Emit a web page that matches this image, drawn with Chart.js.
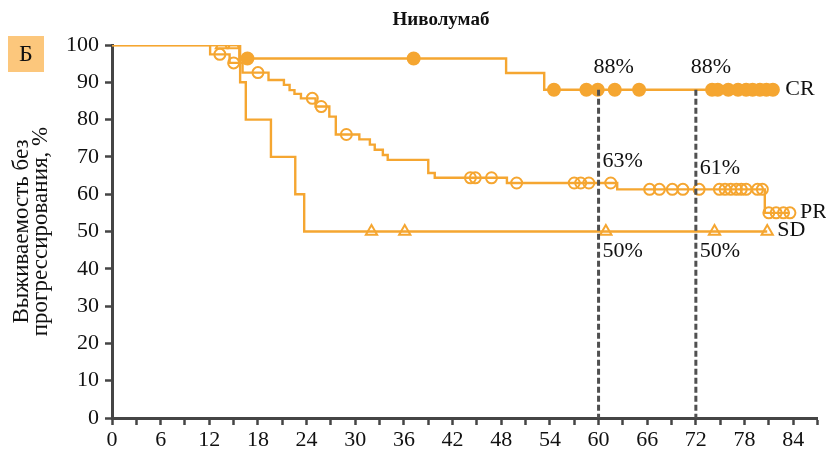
<!DOCTYPE html>
<html>
<head>
<meta charset="utf-8">
<script src="https://cdn.jsdelivr.net/npm/chart.js@4/dist/chart.umd.min.js"></script>
<style>
  html, body { margin: 0; padding: 0; background: #fff; }
  #wrap { width: 826px; height: 457px; position: relative; }
</style>
</head>
<body>
<div id="wrap"><canvas id="c"></canvas></div>
<script>
// Progression-free survival (%), time in months.
// Each curve: times of events, survival level after each event, last follow-up, censored times.
const crEventTimes  = [0, 15.7, 48.6, 53.3];
const crEventValues = [100, 96.4, 92.5, 88];
const crLastFollowUp = 81.8;
const crCensorTimes = [16.7, 37.2, 54.5, 58.5, 59.9, 62.0, 65.0, 74.0, 74.7, 76.0, 77.2, 78.2, 79.0, 79.9, 80.7, 81.5];

const prEventTimes  = [0, 12.1, 14.5, 16.1, 19.3, 21.2, 21.9, 22.5, 23.3, 25.1, 26.8, 27.6, 30.5, 31.8, 32.4, 33.4, 34.0, 39.0, 39.8, 48.7, 62.3, 80.5];
const prEventValues = [100, 97.5, 95.2, 92.6, 90.6, 89.3, 87.9, 86.9, 85.7, 83.5, 80.8, 76.0, 74.7, 73.3, 71.9, 70.5, 69.2, 65.7, 64.4, 63.0, 61.3, 55.0];
const prLastFollowUp = 83.6;
const prCensorTimes = [13.3, 15.0, 18.0, 24.7, 25.8, 28.9, 44.2, 44.8, 46.8, 49.9, 57.0, 57.8, 58.8, 61.5, 66.3, 67.5, 69.1, 70.4, 72.4, 74.9, 75.6, 76.3, 77.0, 77.6, 78.2, 79.6, 80.2, 81.0, 81.9, 82.8, 83.6];

const sdEventTimes  = [0, 15.8, 16.5, 19.6, 22.6, 23.7];
const sdEventValues = [100, 90, 80, 70, 60, 50];
const sdLastFollowUp = 80.8;
const sdCensorTimes = [13.5, 15.0, 32.0, 36.1, 60.9, 74.3, 80.8];

const seriesNames = ['CR', 'PR', 'SD'];

// Landmark estimates at 60 and 72 months
const milestoneMonths = [60, 72];
const crMilestones = [88, 88];
const prMilestones = [63, 61];
const sdMilestones = [50, 50];

const chartTitle = 'Ниволумаб';
const panelLetter = 'Б';
const yTitle = ['Выживаемость без', 'прогрессирования, %'];

const ORANGE = '#F5A631';
const AXIS = '#454545';
const FONT = "'Liberation Serif', 'DejaVu Serif', serif";

// survival level of a step curve at time t
function levelAt(times, values, t) {
  let v = values[0];
  for (let i = 0; i < times.length; i++) if (times[i] <= t) v = values[i];
  return v;
}
function stepPoints(times, values, last) {
  const pts = times.map((t, i) => ({ x: t, y: values[i] }));
  pts.push({ x: last, y: values[values.length - 1] });
  return pts;
}
function censorPoints(times, values, censored) {
  return censored.map(t => ({ x: t, y: levelAt(times, values, t) }));
}

const curves = [
  { name: seriesNames[0], times: crEventTimes, values: crEventValues, last: crLastFollowUp, censored: crCensorTimes, style: 'circle', fill: ORANGE, r: 6 },
  { name: seriesNames[1], times: prEventTimes, values: prEventValues, last: prLastFollowUp, censored: prCensorTimes, style: 'circle', fill: 'rgba(255,255,255,0)', r: 5.5 },
  { name: seriesNames[2], times: sdEventTimes, values: sdEventValues, last: sdLastFollowUp, censored: sdCensorTimes, style: 'triangle', fill: 'rgba(255,255,255,0)', r: 6.5 }
];

const datasets = [];
curves.forEach(c => {
  datasets.push({
    label: c.name,
    data: stepPoints(c.times, c.values, c.last),
    showLine: true,
    stepped: 'before',   // horizontal run, then the drop at the next event
    borderColor: ORANGE,
    borderWidth: 2.4,
    pointRadius: 0,
    fill: false
  });
  datasets.push({
    label: c.name + ' censored',
    data: censorPoints(c.times, c.values, c.censored),
    showLine: false,
    pointStyle: c.style,
    pointRadius: c.r,
    pointBorderWidth: 2,
    pointBorderColor: ORANGE,
    pointBackgroundColor: c.fill
  });
});

// dashed landmark lines, landmark percentages, curve names, title and panel letter
const annotatePlugin = {
  id: 'annotate',
  afterDatasetsDraw(chart) {
    const { ctx, scales: { x, y } } = chart;
    ctx.save();
    ctx.font = '22px ' + FONT;
    ctx.fillStyle = '#111';
    ctx.textBaseline = 'middle';

    milestoneMonths.forEach((m, i) => {
      const px = x.getPixelForValue(m);
      ctx.save();
      ctx.strokeStyle = '#505050';
      ctx.lineWidth = 3;
      ctx.setLineDash([6, 3]);
      ctx.beginPath();
      ctx.moveTo(px, y.getPixelForValue(crMilestones[i]));
      ctx.lineTo(px, y.getPixelForValue(0));
      ctx.stroke();
      ctx.restore();

      ctx.textAlign = 'left';
      ctx.fillText(crMilestones[i] + '%', px - 5, y.getPixelForValue(crMilestones[i]) - 23);
      ctx.fillText(prMilestones[i] + '%', px + 4, y.getPixelForValue(prMilestones[i]) - 22);
      ctx.fillText(sdMilestones[i] + '%', px + 4, y.getPixelForValue(sdMilestones[i]) + 20);
    });

    curves.forEach(c => {
      const endV = c.values[c.values.length - 1];
      ctx.textAlign = 'left';
      ctx.fillText(c.name, x.getPixelForValue(c.last) + 10, y.getPixelForValue(endV) - 1);
    });

    // title
    ctx.font = 'bold 19px ' + FONT;
    ctx.textAlign = 'center';
    ctx.fillText(chartTitle, 441, 20);

    // panel letter
    ctx.fillStyle = '#FCC77C';
    ctx.fillRect(8, 36, 36, 36);
    ctx.fillStyle = '#111';
    ctx.font = '24px ' + FONT;
    ctx.fillText(panelLetter, 26, 55);
    ctx.restore();
  }
};

new Chart(document.getElementById('c'), {
  type: 'scatter',
  data: { datasets },
  plugins: [annotatePlugin],
  options: {
    responsive: true,
    maintainAspectRatio: false,
    animation: false,
    layout: { padding: { top: 45, right: 8, left: 0, bottom: 0 } },
    plugins: { legend: { display: false }, tooltip: { enabled: false }, title: { display: false } },
    scales: {
      x: {
        type: 'linear',
        min: 0, max: 87,
        afterFit(s) { s.height = 39; },
        ticks: {
          stepSize: 3,
          autoSkip: false,
          maxRotation: 0,
          padding: 2,
          color: '#111',
          font: { family: FONT, size: 22 },
          callback: v => (v % 6 === 0 && v <= 84) ? String(v) : ''
        },
        grid: { drawOnChartArea: false, drawTicks: true, tickLength: 7, tickWidth: 2.5, tickColor: AXIS },
        border: { display: true, width: 3, color: AXIS }
      },
      y: {
        min: 0, max: 100,
        afterFit(s) { s.width = 112; },
        ticks: {
          stepSize: 10,
          padding: 6,
          color: '#111',
          font: { family: FONT, size: 22 }
        },
        title: {
          display: true,
          text: yTitle,
          color: '#111',
          font: { family: FONT, size: 23, lineHeight: 0.85 },
          padding: { top: 12, bottom: 0 }
        },
        grid: { drawOnChartArea: false, drawTicks: true, tickLength: 7, tickWidth: 2.5, tickColor: AXIS },
        border: { display: true, width: 3, color: AXIS }
      }
    }
  }
});
</script>
</body>
</html>
